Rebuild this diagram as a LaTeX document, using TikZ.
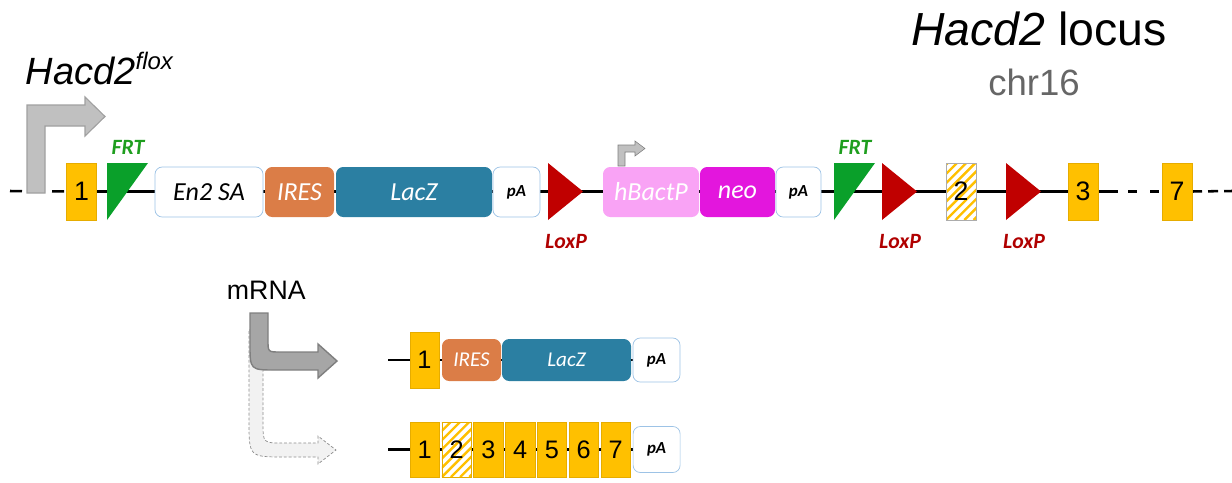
\documentclass[tikz,border=0pt]{standalone}
\usepackage{fontspec}
\setmainfont{Liberation Sans}
\newfontfamily\calib{Carlito}
\usetikzlibrary{positioning,backgrounds}

\definecolor{exonyel}{HTML}{FFC000}
\definecolor{exonedge}{HTML}{E6AC00}
\definecolor{frtgreen}{HTML}{0AA02A}
\definecolor{frttext}{HTML}{1E9E1E}
\definecolor{loxred}{HTML}{C00000}
\definecolor{loxtext}{HTML}{B00000}
\definecolor{iresorange}{HTML}{DB7D47}
\definecolor{lacteal}{HTML}{2B7FA2}
\definecolor{bactpink}{HTML}{F9A3F5}
\definecolor{neomag}{HTML}{E316DD}
\definecolor{boxedge}{HTML}{9DC3E6}
\definecolor{chrgray}{HTML}{666666}
\definecolor{arrowgray}{HTML}{C0C0C0}
\definecolor{arrowedge}{HTML}{A0A0A0}
\definecolor{mrnagray}{HTML}{A6A6A6}
\definecolor{mrnaedge}{HTML}{7F7F7F}

\begin{document}
\begin{tikzpicture}[
  x=0.025cm, y=-0.025cm,
  wd/.style={minimum width=#1*0.025cm},
  ht/.style={minimum height=#1*0.025cm},
  dna/.style={line width=1.8pt},
  numf/.style={font=\fontsize{#1}{#1}\selectfont},
  casf/.style={font=\calib\itshape\fontsize{#1}{#1}\selectfont},
  paf/.style={font=\calib\bfseries\itshape\fontsize{#1}{#1}\selectfont},
  exon/.style={draw=exonedge, fill=exonyel, line width=0.4pt, inner sep=0pt,
               outer sep=0pt, wd=30, ht=57, numf=19},
  hatched/.style={exon, fill=white, path picture={
      \foreach \k in {-8,...,4}
        \draw[exonyel, line width=1.7pt]
          ([xshift=\k*0.23cm]path picture bounding box.south west) -- ++(90,-90);}},
  cas/.style={rounded corners=0.18cm, inner sep=0pt, outer sep=0pt, ht=50,
              text=white, casf=18.5},
  pa/.style={cas, draw=boxedge, fill=white, line width=0.5pt, text=black, paf=12},
  site/.style={font=\calib\bfseries\itshape\fontsize{15.5}{15.5}\selectfont, anchor=base}
]
\useasboundingbox (0,0) rectangle (1232,482);

% titles
\node[anchor=base, numf=33] (locus) at (1039,45) {\textit{Hacd2} locus};
\node[anchor=base, text=chrgray, numf=26] (chr) at (1034,95) {chr16};
\node[anchor=base west, font=\itshape\fontsize{27}{27}\selectfont] (flox) at (21,84)
  {Hacd2\raisebox{10pt}{\fontsize{17}{17}\selectfont flox}};

% promoter arrows
\draw[fill=arrowgray, draw=arrowedge, line width=0.8pt]
  (27,193) -- (27,105) -- (85,105) -- (85,97) -- (105,116.5) -- (85,136)
  -- (85,126) -- (45,126) -- (45,193) -- cycle;
\draw[fill=arrowgray, draw=mrnaedge, line width=0.4pt]
  (618,166) -- (618,145) -- (635,145) -- (635,141) -- (645,148.5) -- (635,156)
  -- (635,152) -- (625,152) -- (625,166) -- cycle;

% targeted locus
\node[exon] (e1) at (81.5,191.5) {1};
\node[cas, wd=108, draw=boxedge, fill=white, line width=0.5pt, text=black] (en2) at (209,192) {En2 SA};
\node[cas, wd=69, fill=iresorange, right=0.05cm of en2] (ires) {IRES};
\node[cas, wd=156, fill=lacteal, right=0.05cm of ires] (lacz) {LacZ};
\node[pa, wd=47, right=0.025cm of lacz] (pa1) {pA};
\node[cas, wd=96, fill=bactpink] (bact) at (651,192) {hBactP};
\node[cas, wd=75, fill=neomag, right=0.025cm of bact] (neo) {neo};
\node[pa, wd=45, right=0.025cm of neo] (pa2) {pA};
\node[hatched, draw=gray!65] (e2) at (961,191.5) {2};
\node[exon] (e3) at (1083,191.5) {3};
\node[exon] (e7) at (1177,191.5) {7};

\foreach \x/\n in {107/a, 834/b} {
  \fill[frtgreen] (\x,163) -- ++(41,0) -- (\x,220) -- cycle;
  \node[site, text=frttext] (frt\n) at (\x+21,154) {FRT};
}
\foreach \x/\n in {548/a, 882/b, 1006/c} {
  \fill[loxred] (\x,163) -- (\x+35,191.5) -- (\x,220) -- cycle;
  \node[site, text=loxtext] (lox\n) at (\x+18,248.5) {LoxP};
}

\coordinate (lstart) at (10,191);
\coordinate (lend) at (1232,191);
\begin{scope}[on background layer]
  \draw[dna, dash pattern=on 0.3cm off 0.75cm] (lstart) -- (e1.west);
  \draw[dna] (e1.west) -- (e3.east);
  \draw[dna, dash pattern=on 0.5cm off 0.25cm on 0.225cm off 0.325cm on 0.225cm off 0.25cm]
    (e3.east) -- (e7.west);
  \draw[dna, dash pattern=on 0.25cm off 0.15cm] (e7.east) -- (lend);
\end{scope}

% mRNA
\node[anchor=base west, numf=19] (mrna) at (222,299) {mRNA};
\draw[fill=black!5, draw=black!45, line width=0.5pt, dash pattern=on 0.07cm off 0.05cm]
  (249,330) -- (263,330) -- (263,423) .. controls (263,443) .. (283,443) -- (318,443)
  -- (318,436) -- (336,450) -- (318,464) -- (318,457) -- (285,457)
  .. controls (249,457) .. (249,421) -- cycle;
\draw[fill=mrnagray, draw=mrnaedge, line width=1pt]
  (250,313) -- (268,313) -- (268,340) .. controls (268,352) .. (280,352) -- (318,352)
  -- (318,344) -- (337,361) -- (318,378) -- (318,370) -- (276,370)
  .. controls (250,370) .. (250,344) -- cycle;

% transcript 1
\node[exon, wd=29, ht=56, numf=18] (m1) at (424.5,360) {1};
\node[cas, wd=59, ht=42, casf=15, fill=iresorange, right=0.075cm of m1] (mires) {IRES};
\node[cas, wd=129, ht=42, casf=15, fill=lacteal, right=0.025cm of mires] (mlacz) {LacZ};
\node[pa, wd=47, ht=44, right=0.05cm of mlacz] (mpa) {pA};

% transcript 2
\node[exon, wd=29.5, ht=55, numf=18] (n1) at (424.75,449.5) {1};
\foreach \i/\sty [remember=\i as \prev (initially 1)] in {2/hatched,3/exon,4/exon,5/exon,6/exon,7/exon}
  \node[\sty, wd=29.5, ht=55, numf=18, right=0.0575cm of n\prev] (n\i) {\i};
\node[pa, wd=47, ht=46, right=0.07cm of n7] (npa) {pA};

\coordinate (rowa) at (388,360);
\coordinate (rowb) at (388,449.5);
\begin{scope}[on background layer]
  \draw[dna] (rowa) -- (mpa.west);
  \draw[dna] (rowb) -- (npa.west);
\end{scope}
\end{tikzpicture}
\end{document}
